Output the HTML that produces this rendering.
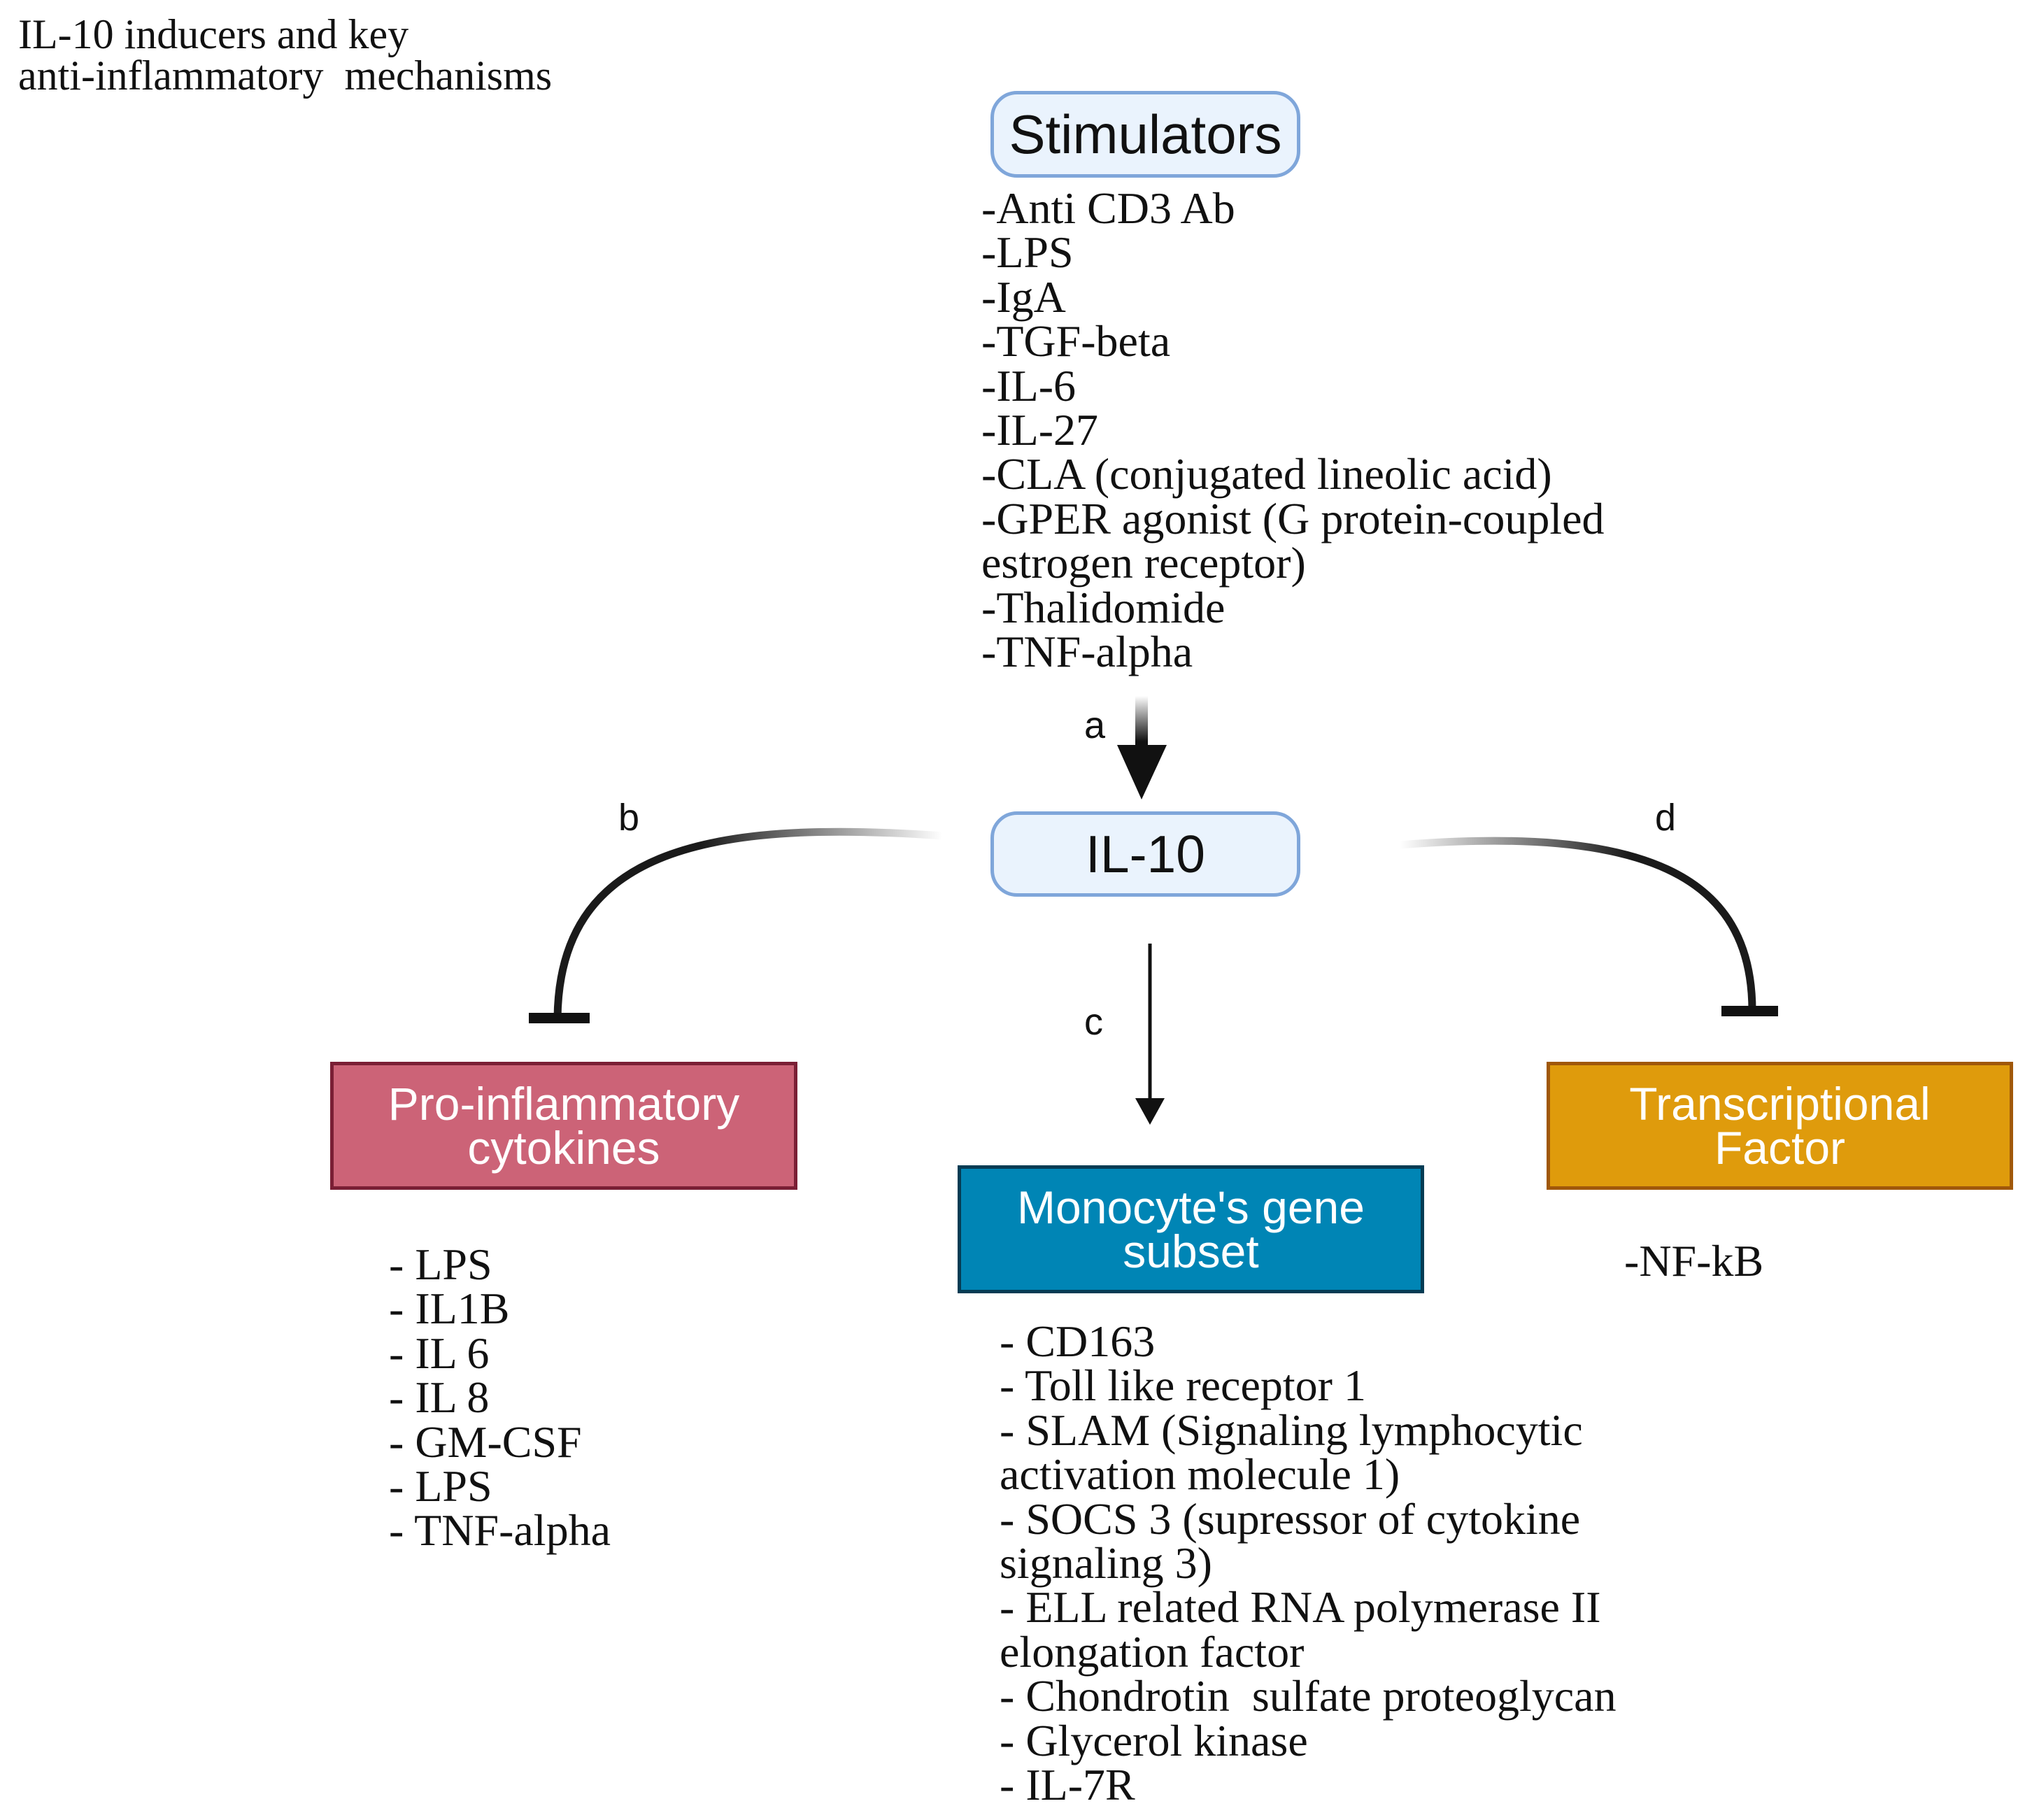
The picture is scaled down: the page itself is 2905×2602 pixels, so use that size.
<!DOCTYPE html>
<html><head><meta charset="utf-8"><style>
body{margin:0;width:2905px;height:2602px;background:#fff;position:relative;overflow:hidden;font-family:"Liberation Serif",serif;color:#111}
.t{position:absolute;white-space:pre;}
.list{position:absolute;font-size:64px;line-height:63.4px;white-space:pre;font-family:"Liberation Serif",serif;}
.box{position:absolute;box-sizing:border-box;display:flex;align-items:center;justify-content:center;text-align:center;font-family:"Liberation Sans",sans-serif;}
.rb{background:#eaf3fd;border:5px solid #7fa6da;border-radius:38px;color:#111}
.sq{color:#fff;font-size:66px;line-height:63px;border-width:5px;border-style:solid}
.lab{position:absolute;font-family:"Liberation Sans",sans-serif;font-size:54px;color:#111}
</style></head><body>
<div class="t" style="left:26px;top:20px;font-size:60px;line-height:59px;">IL-10 inducers and key
anti-inflammatory  mechanisms</div>

<div class="box rb" style="left:1416px;top:130px;width:443px;height:124px;font-size:78px;">Stimulators</div>
<div class="list" style="left:1403px;top:266px;">-Anti CD3 Ab
-LPS
-IgA
-TGF-beta
-IL-6
-IL-27
-CLA (conjugated lineolic acid)
-GPER agonist (G protein-coupled
estrogen receptor)
-Thalidomide
-TNF-alpha</div>

<div class="box rb" style="left:1416px;top:1160px;width:443px;height:122px;font-size:75px;">IL-10</div>

<svg style="position:absolute;left:0;top:0" width="2905" height="2602">
<defs>
<linearGradient id="ga" gradientUnits="userSpaceOnUse" x1="0" y1="995" x2="0" y2="1060"><stop offset="0" stop-color="#111" stop-opacity="0"/><stop offset="1" stop-color="#111"/></linearGradient>
<linearGradient id="gb" gradientUnits="userSpaceOnUse" x1="1347" y1="0" x2="1000" y2="0"><stop offset="0" stop-color="#111" stop-opacity="0"/><stop offset="1" stop-color="#1a1a1a"/></linearGradient>
<linearGradient id="gd" gradientUnits="userSpaceOnUse" x1="2001" y1="0" x2="2330" y2="0"><stop offset="0" stop-color="#111" stop-opacity="0"/><stop offset="1" stop-color="#1a1a1a"/></linearGradient>
</defs>
<rect x="1623" y="995" width="18" height="72" fill="url(#ga)"/>
<polygon points="1597,1065 1668,1065 1632,1143" fill="#111"/>
<path d="M1347,1195 C1000,1170 800,1220 797,1455" fill="none" stroke="url(#gb)" stroke-width="11"/>
<rect x="756" y="1448" width="87" height="15" fill="#111"/>
<path d="M2001,1208 C2350,1180 2505,1250 2505,1445" fill="none" stroke="url(#gd)" stroke-width="11"/>
<rect x="2461" y="1438" width="81" height="15" fill="#111"/>
<line x1="1644" y1="1349" x2="1644" y2="1575" stroke="#111" stroke-width="5"/>
<polygon points="1623,1570 1665,1570 1644,1608" fill="#111"/>
</svg>
<div class="lab" style="left:1550px;top:1006px;">a</div>
<div class="lab" style="left:884px;top:1138px;">b</div>
<div class="lab" style="left:1550px;top:1430px;">c</div>
<div class="lab" style="left:2366px;top:1138px;">d</div>

<div class="box sq" style="left:472px;top:1518px;width:668px;height:183px;background:#cc6377;border-color:#7a1f35;">Pro-inflammatory<br>cytokines</div>
<div class="box sq" style="left:2211px;top:1518px;width:667px;height:183px;background:#df9b0c;border-color:#a0580a;">Transcriptional<br>Factor</div>
<div class="box sq" style="left:1369px;top:1666px;width:667px;height:183px;background:#0085b5;border-color:#053c54;">Monocyte's gene<br>subset</div>

<div class="list" style="left:556px;top:1776px;">- LPS
- IL1B
- IL 6
- IL 8
- GM-CSF
- LPS
- TNF-alpha</div>
<div class="list" style="left:2322px;top:1771px;">-NF-kB</div>
<div class="list" style="left:1429px;top:1886px;">- CD163
- Toll like receptor 1
- SLAM (Signaling lymphocytic
activation molecule 1)
- SOCS 3 (supressor of cytokine
signaling 3)
- ELL related RNA polymerase II
elongation factor
- Chondrotin  sulfate proteoglycan
- Glycerol kinase
- IL-7R</div>
</body></html>
